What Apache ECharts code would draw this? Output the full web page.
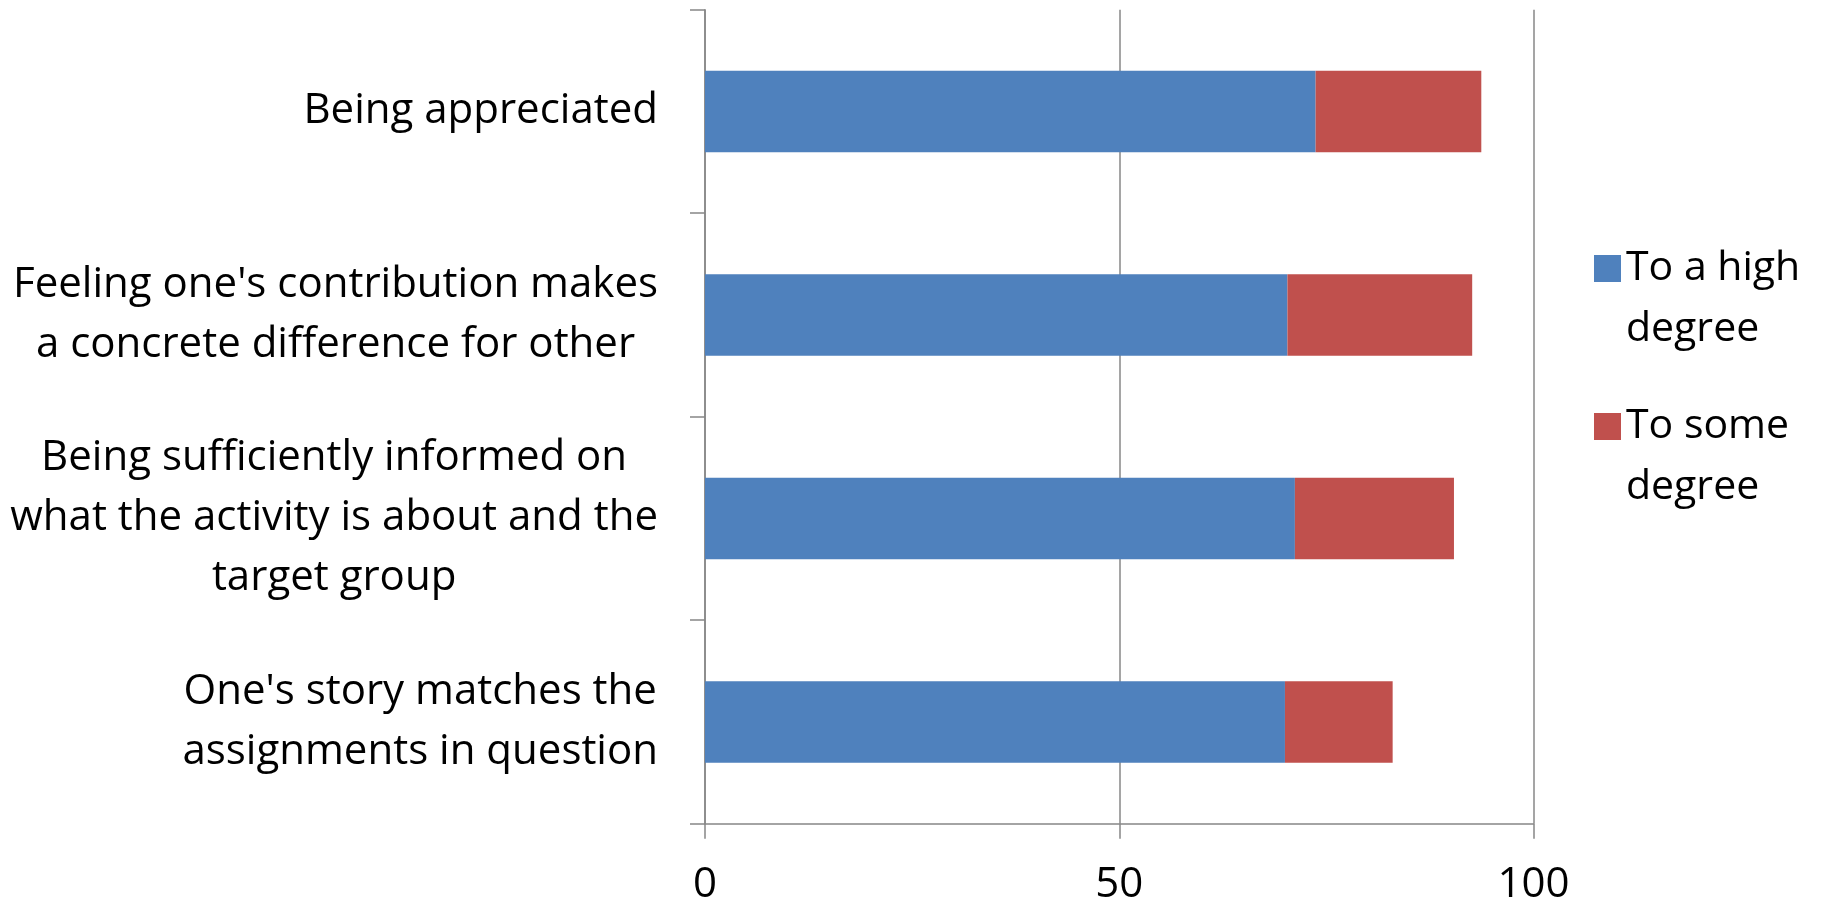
<!DOCTYPE html>
<html>
<head>
<meta charset="utf-8">
<title>Motivation factors</title>
<script src="https://cdn.jsdelivr.net/npm/echarts@6/dist/echarts.min.js"></script>
<style>
  html, body { margin: 0; padding: 0; background: #fff; }
  #chart { width: 1821px; height: 905px; }
</style>
</head>
<body>
<div id="chart"></div>
<script>
// Categories, listed top to bottom
const categories = [
  "Being appreciated",
  "Feeling one's contribution makes\na concrete difference for other",
  "Being sufficiently informed on\nwhat the activity is about and the\ntarget group",
  "One's story matches the\nassignments in question"
];

// Share of respondents (%)
const highDegree = [73.7, 70.3, 71.2, 70.0];
const someDegree = [20.0, 22.3, 19.2, 13.0];

const seriesNames = ['To a high degree', 'To some degree'];
// Wrapped legend text; the leading blank line keeps the swatch beside the first line
const legendLines = {
  'To a high degree': '\nTo a high\ndegree',
  'To some degree': '\nTo some\ndegree'
};

const xTicks = { min: 0, max: 100, interval: 50 };

const FONT = '"Open Sans", "Noto Sans", sans-serif';
const AXIS_GREY = '#878787';

const chart = echarts.init(document.getElementById('chart'), null, { renderer: 'canvas' });

chart.setOption({
  animation: false,
  backgroundColor: '#ffffff',
  grid: {
    left: 705,
    right: 287.5,
    top: 9.7,
    bottom: 81.3,
    containLabel: false,
    outerBoundsMode: 'none'
  },
  legend: {
    orient: 'vertical',
    left: 1589,
    top: 172,
    icon: 'rect',
    itemWidth: 27,
    itemHeight: 27,
    itemGap: -25,
    itemTextGap: 11,
    selectedMode: false,
    data: seriesNames,
    formatter: name => legendLines[name],
    textStyle: {
      fontFamily: FONT,
      fontSize: 41,
      lineHeight: 61,
      color: '#000'
    }
  },
  xAxis: {
    type: 'value',
    min: xTicks.min,
    max: xTicks.max,
    interval: xTicks.interval,
    axisLine: { show: true, lineStyle: { color: AXIS_GREY, width: 1.5 } },
    axisTick: { show: true, length: 15, lineStyle: { color: AXIS_GREY, width: 1.5 } },
    splitLine: { show: true, lineStyle: { color: AXIS_GREY, width: 1.5 } },
    axisLabel: {
      margin: 40,
      fontFamily: FONT,
      fontSize: 42,
      color: '#000'
    }
  },
  yAxis: {
    type: 'category',
    inverse: true,
    data: categories,
    axisLine: { show: true, lineStyle: { color: AXIS_GREY, width: 1.5 } },
    axisTick: { show: true, length: 15, lineStyle: { color: AXIS_GREY, width: 1.5 } },
    splitLine: { show: false },
    axisLabel: {
      margin: 47,
      interval: 0,
      align: 'right',
      formatter: value => value.split('\n').map(line => '{c|' + line + '}').join('\n'),
      rich: {
        c: {
          align: 'center',
          fontFamily: FONT,
          fontSize: 42,
          lineHeight: 60,
          color: '#000'
        }
      }
    }
  },
  series: [
    {
      name: seriesNames[0],
      type: 'bar',
      stack: 'total',
      barCategoryGap: '60%',
      itemStyle: { color: '#4F81BD' },
      data: highDegree
    },
    {
      name: seriesNames[1],
      type: 'bar',
      stack: 'total',
      barCategoryGap: '60%',
      itemStyle: { color: '#C0504D' },
      data: someDegree
    }
  ]
});
</script>
</body>
</html>
